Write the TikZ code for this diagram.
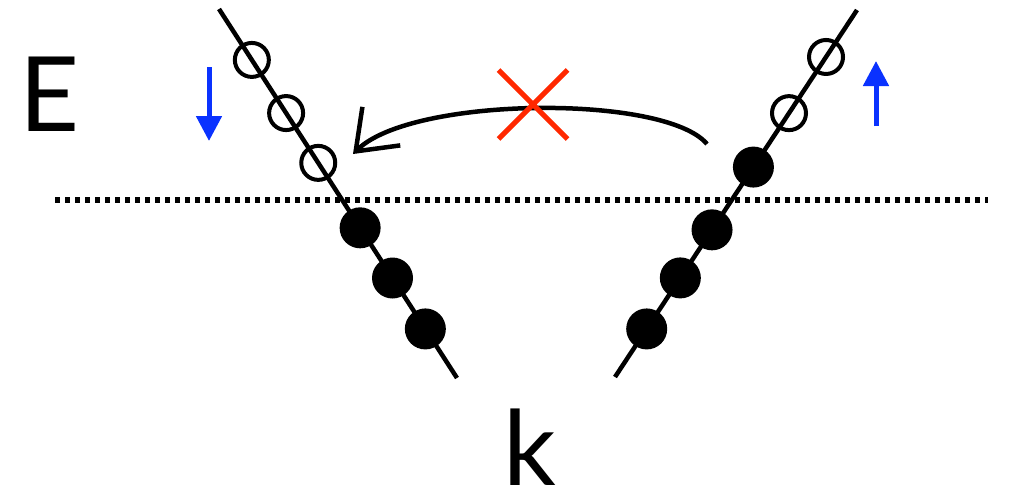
\documentclass[tikz,border=0pt]{standalone}
\usepackage{fontspec}
\setmainfont{Lato}
\usetikzlibrary{arrows.meta,shapes.misc,calc}
\definecolor{arrowblue}{RGB}{10,50,255}
\definecolor{crossred}{RGB}{255,40,0}
\tikzset{
  band/.style={line width=4.5pt},
  hole/.style={circle,draw,line width=4pt,minimum size=34pt,inner sep=0pt},
  electron/.style={circle,fill=black,minimum size=41pt,inner sep=0pt},
  spinarrow/.style={arrowblue,line width=5pt,-{Triangle[length=25pt,width=25pt]}},
  fermi/.style={line width=5.5pt,dash pattern=on 5pt off 5pt},
  hop/.style={line width=4.5pt,-{Straight Barb[length=36pt,width=54pt,line width=4.5pt]}},
  forbid/.style={cross out,draw=crossred,line width=5pt,minimum size=64pt,inner sep=0pt},
  bigtext/.style={inner sep=0pt,font=\fontsize{104}{104}\selectfont}
}
\begin{document}
\begin{tikzpicture}[x=1pt,y=-1pt]
\useasboundingbox (0,0) rectangle (1013,493);
% Fermi level
\coordinate (f1) at (55,200);
\coordinate (f2) at (988,200);
\draw[fermi] (f1) -- (f2);
% left band
\coordinate (la) at (219,9);
\coordinate (lb) at (457,378);
\draw[band] (la) -- (lb);
\node[hole] (l1) at ($(la)!0.138!(lb)$) {};
\node[hole] (l2) at ($(la)!0.282!(lb)$) {};
\node[hole] (l3) at ($(la)!0.417!(lb)$) {};
\node[electron] (l4) at ($(la)!0.593!(lb)$) {};
\node[electron] (l5) at ($(la)!0.729!(lb)$) {};
\node[electron] (l6) at ($(la)!0.867!(lb)$) {};
% right band
\coordinate (ra) at (615,377);
\coordinate (rb) at (857,10);
\draw[band] (ra) -- (rb);
\node[electron] (r1) at ($(ra)!0.131!(rb)$) {};
\node[electron] (r2) at ($(ra)!0.270!(rb)$) {};
\node[electron] (r3) at ($(ra)!0.401!(rb)$) {};
\node[electron] (r4) at ($(ra)!0.572!(rb)$) {};
\node[hole] (r5) at ($(ra)!0.719!(rb)$) {};
\node[hole] (r6) at ($(ra)!0.872!(rb)$) {};
% spin arrows
\coordinate (sl1) at (209,67);
\coordinate (sl2) at (209,141);
\draw[spinarrow] (sl1) -- (sl2);
\coordinate (sr1) at (876,126);
\coordinate (sr2) at (876,61);
\draw[spinarrow] (sr1) -- (sr2);
% forbidden hop
\coordinate (h1) at (707,144);
\coordinate (h2) at (353,154);
\draw[hop] (h1) .. controls (665,94) and (412,96) .. (h2);
\node[forbid] (x) at (533,104.5) {};
% labels
\node[bigtext,anchor=base west] (E) at (19,131) {E};
\node[bigtext,anchor=base west] (k) at (503,485) {k};
\end{tikzpicture}
\end{document}
